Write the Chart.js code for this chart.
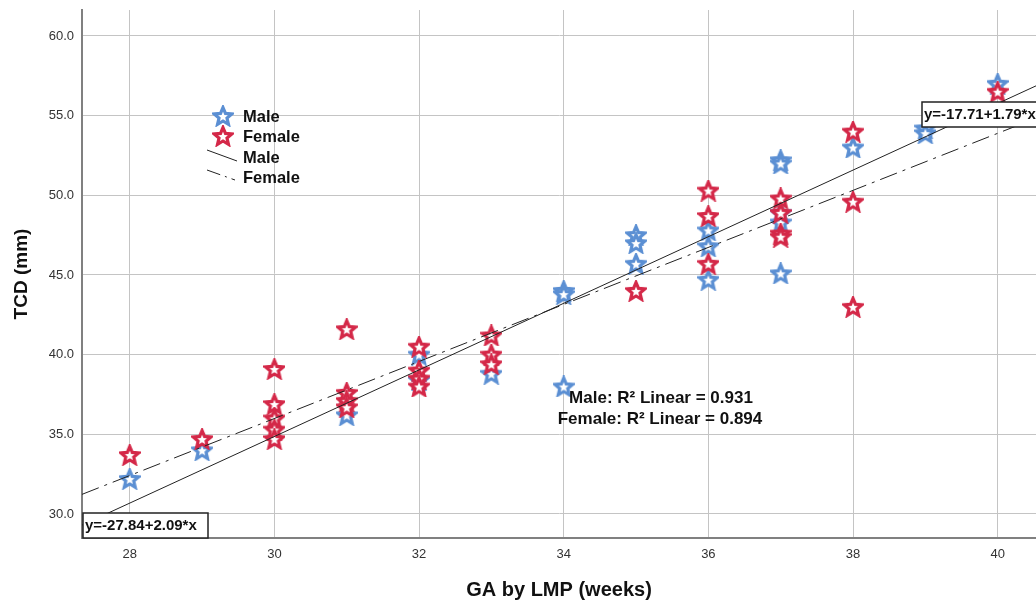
<!DOCTYPE html>
<html>
<head>
<meta charset="utf-8">
<script src="https://cdn.jsdelivr.net/npm/chart.js@4/dist/chart.umd.min.js"></script>
<style>
  html, body { margin: 0; padding: 0; background: #fff; overflow: hidden; }
  #wrap { width: 1036px; height: 600px; position: relative; }
</style>
</head>
<body>
<div id="wrap"><canvas id="chart"></canvas></div>
<script>
// values
const maleWeeks = [28, 29, 31, 32, 32, 33, 34, 34, 34, 35, 35, 35, 36, 36, 36, 37, 37, 37, 37, 37, 38, 39, 39, 40];
const maleTcd   = [32.2, 34.0, 36.2, 40.0, 38.4, 38.8, 44.0, 43.8, 38.0, 47.5, 47.0, 45.7, 47.8, 46.8, 44.7, 52.2, 52.0, 48.9, 48.3, 45.1, 53.0, 54.2, 53.9, 57.0];

const femaleWeeks = [28, 29, 30, 30, 30, 30, 30, 31, 31, 31, 31, 32, 32, 32, 32, 33, 33, 33, 35, 36, 36, 36, 37, 37, 37, 37, 38, 38, 38, 40];
const femaleTcd   = [33.7, 34.7, 39.1, 36.9, 36.0, 35.3, 34.7, 41.6, 37.6, 37.1, 36.7, 40.5, 39.0, 38.5, 38.0, 41.2, 40.0, 39.4, 44.0, 50.3, 48.7, 45.7, 49.8, 48.9, 47.6, 47.4, 54.0, 49.6, 43.0, 56.5];

// fit lines as printed on the chart: [intercept, slope]
const maleFit = [-27.84, 2.09];
const femaleFit = [-17.71, 1.79];
const r2Labels = ['Male: R\u00B2 Linear = 0.931', 'Female: R\u00B2 Linear = 0.894'];

const xTicks = [28, 30, 32, 34, 36, 38, 40];
const yTicks = [30, 35, 40, 45, 50, 55, 60];
const xRange = [27.34, 40.53];
const yRange = [28.49, 61.63];

const FONT = '"Liberation Sans", Arial, sans-serif';
const BLUE = '#5b8fd3';
const RED = '#d42848';
const DASHDOT = [18, 6, 3, 6];

function makeStar(color) {
  const c = document.createElement('canvas');
  c.width = 22; c.height = 22;
  const g = c.getContext('2d');
  g.beginPath();
  for (let i = 0; i < 10; i++) {
    const r = i % 2 ? 4.2 : 9.3;
    const a = -Math.PI / 2 + i * Math.PI / 5;
    g.lineTo(11 + r * Math.cos(a), 11.8 + r * Math.sin(a));
  }
  g.closePath();
  g.fillStyle = '#fff';
  g.fill();
  g.lineWidth = 3.2;
  g.strokeStyle = color;
  g.stroke();
  return c;
}
const blueStar = makeStar(BLUE);
const redStar = makeStar(RED);

const pts = (xs, ys) => xs.map((x, i) => ({ x: x, y: ys[i] }));
const fitPts = f => xRange.map(x => ({ x: x, y: f[0] + f[1] * x }));

const overlay = {
  id: 'overlay',
  afterDatasetsDraw(chart) {
    const ctx = chart.ctx;
    const a = chart.chartArea;
    ctx.save();

    // legend
    ctx.drawImage(blueStar, 212, 105);
    ctx.drawImage(redStar, 212, 125);
    ctx.strokeStyle = '#222';
    ctx.lineWidth = 1;
    ctx.beginPath(); ctx.moveTo(207, 150); ctx.lineTo(237, 161); ctx.stroke();
    ctx.setLineDash([14, 5, 2, 5]);
    ctx.beginPath(); ctx.moveTo(207, 170); ctx.lineTo(235, 180); ctx.stroke();
    ctx.setLineDash([]);
    ctx.fillStyle = '#111';
    ctx.font = 'bold 16.5px ' + FONT;
    ctx.textBaseline = 'middle';
    ctx.textAlign = 'left';
    ['Male', 'Female', 'Male', 'Female'].forEach((t, i) => ctx.fillText(t, 243, 117 + i * 20.5));

    // R squared notes
    ctx.font = 'bold 17px ' + FONT;
    ctx.textAlign = 'center';
    ctx.fillText(r2Labels[0], 661, 398);
    ctx.fillText(r2Labels[1], 660, 419);

    // equation boxes
    ctx.font = 'bold 15px ' + FONT;
    ctx.textAlign = 'left';
    const box = (txt, x, y, w) => {
      ctx.fillStyle = '#fff';
      ctx.fillRect(x, y, w, 25);
      ctx.strokeStyle = '#222';
      ctx.lineWidth = 1.5;
      ctx.strokeRect(x, y, w, 25);
      ctx.fillStyle = '#111';
      ctx.fillText(txt, x + 2, y + 13);
    };
    box('y=' + maleFit[0].toFixed(2) + '+' + maleFit[1].toFixed(2) + '*x', a.left + 1, a.bottom - 25, 125);
    box('y=' + femaleFit[0].toFixed(2) + '+' + femaleFit[1].toFixed(2) + '*x', 922, 102, 125);
    ctx.restore();
  }
};

new Chart(document.getElementById('chart'), {
  type: 'scatter',
  data: {
    datasets: [
      { label: 'Female', data: pts(femaleWeeks, femaleTcd), pointStyle: redStar, order: 2 },
      { label: 'Male', data: pts(maleWeeks, maleTcd), pointStyle: blueStar, order: 3 },
      { type: 'line', label: 'Male fit', data: fitPts(maleFit), borderColor: '#222', borderWidth: 1, pointRadius: 0, order: 0 },
      { type: 'line', label: 'Female fit', data: fitPts(femaleFit), borderColor: '#222', borderWidth: 1, borderDash: DASHDOT, pointRadius: 0, order: 1 }
    ]
  },
  options: {
    responsive: true,
    maintainAspectRatio: false,
    animation: false,
    layout: { autoPadding: false, padding: { top: 10, right: 0, left: 0, bottom: 0 } },
    plugins: { legend: { display: false }, tooltip: { enabled: false } },
    scales: {
      x: {
        type: 'linear',
        min: xRange[0],
        max: xRange[1],
        afterBuildTicks: s => { s.ticks = xTicks.map(v => ({ value: v })); },
        afterFit: s => { s.height = 62; s.paddingLeft = 0; s.paddingRight = 0; },
        grid: { color: '#c4c4c4', drawTicks: false },
        border: { color: '#808080', width: 2 },
        ticks: { padding: 9, color: '#333', font: { family: FONT, size: 13 }, maxRotation: 0 },
        title: { display: true, text: 'GA by LMP (weeks)', color: '#111', padding: { top: 0, bottom: -2 }, font: { family: FONT, size: 20, weight: 'bold' } }
      },
      y: {
        min: yRange[0],
        max: yRange[1],
        afterBuildTicks: s => { s.ticks = yTicks.map(v => ({ value: v })); },
        afterFit: s => { s.width = 82; s.paddingTop = 0; s.paddingBottom = 0; },
        grid: { color: '#c4c4c4', drawTicks: false },
        border: { color: '#808080', width: 2 },
        ticks: { padding: 8, color: '#333', font: { family: FONT, size: 13 }, callback: v => v.toFixed(1) },
        title: { display: true, text: 'TCD (mm)', color: '#111', padding: { top: 10, bottom: 0 }, font: { family: FONT, size: 19, weight: 'bold' } }
      }
    }
  },
  plugins: [overlay]
});
</script>
</body>
</html>
